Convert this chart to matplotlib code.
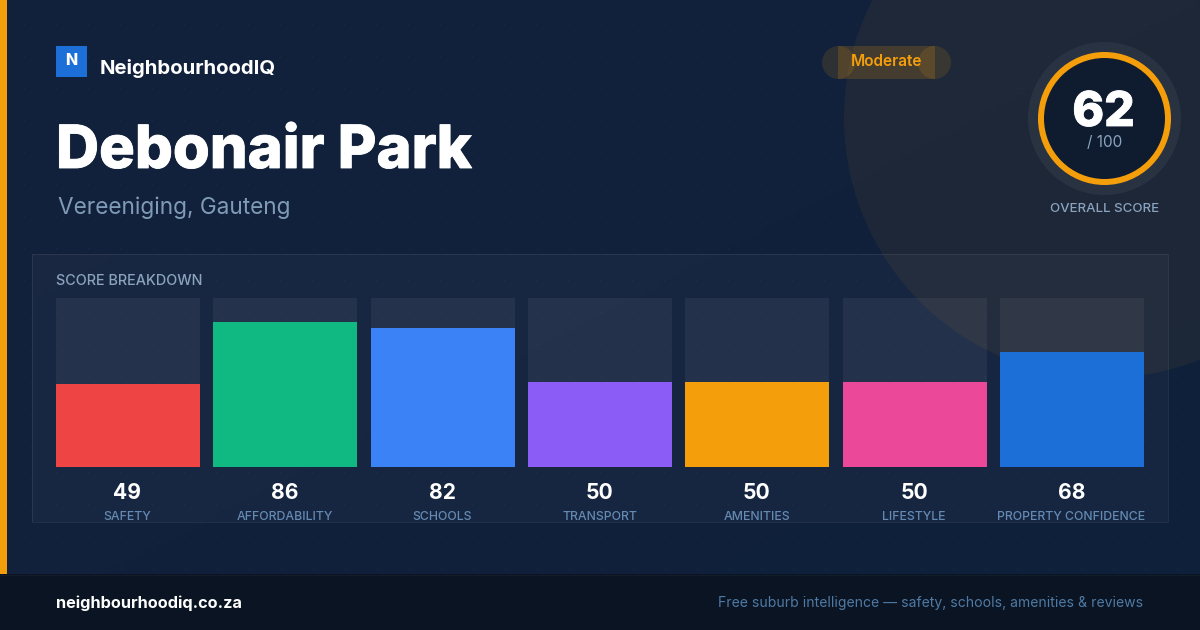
import numpy as np
import matplotlib
matplotlib.use('Agg')
from matplotlib import pyplot as plt
from matplotlib.patches import Rectangle, Circle
from matplotlib import patheffects as pe

categories = ['SAFETY', 'AFFORDABILITY', 'SCHOOLS', 'TRANSPORT', 'AMENITIES', 'LIFESTYLE', 'PROPERTY CONFIDENCE']
scores = [49, 86, 82, 50, 50, 50, 68]
bar_colors = ['#ef4444', '#10b981', '#3b82f6', '#8b5cf6', '#f59e0b', '#ec4899', '#1d6fd8']
overall = 62
suburb = 'Debonair Park'
place = 'Vereeniging, Gauteng'
rating = 'Moderate'

plt.rcParams['font.family'] = ['Inter', 'DejaVu Sans']

W, H = 1200, 630
PT = 0.72  # css px to points at dpi 100
ORANGE = '#f59e0b'

fig = plt.figure(figsize=(12, 6.3), dpi=100)

# whole picture in pixel coordinates
bg = fig.add_axes([0, 0, 1, 1])
bg.set_xlim(0, W)
bg.set_ylim(H, 0)
bg.axis('off')

# background gradient
gx, gy = np.meshgrid(np.linspace(0, 1, 240), np.linspace(0, 1, 126))
t = (gx + gy) / 2
c0 = np.array([0x13, 0x22, 0x3c]) / 255
c1 = np.array([0x0f, 0x20, 0x3a]) / 255
bg.imshow(c0 + (c1 - c0) * t[..., None], extent=[0, W, H, 0], aspect='auto', zorder=0)

# faint dot grid
dx, dy = np.meshgrid(np.arange(24, W, 32), np.arange(24, 574, 32))
bg.scatter(dx.ravel(), dy.ravel(), s=1.2, color='white', alpha=0.035, linewidths=0, zorder=1)

# big corner circle, same centre as the score ring
bg.add_patch(Circle((1104, 118), 260, fc='#f59e0b', alpha=0.06, lw=0, zorder=1))
bg.add_patch(Rectangle((0, 0), 7, H, fc=ORANGE, lw=0, zorder=2))

# the heavy titles need a bit more weight than the font gives
heavy = [pe.withStroke(linewidth=0.6, foreground='white')]

# logo
bg.add_patch(Rectangle((56, 46), 31, 31, fc='#1d6fd8', lw=0, zorder=3))
bg.text(71, 60.5, 'N', color='white', fontsize=16 * PT, fontweight=800, ha='center', va='center', zorder=4)
bg.text(100, 68, 'NeighbourhoodIQ', color='white', fontsize=20.3 * PT, fontweight='bold', ha='left', va='center', zorder=4)

# title
bg.text(56, 168, suburb, color='white', fontsize=59.6 * PT, fontweight=800, ha='left', va='baseline', zorder=4, path_effects=heavy)
bg.text(58, 214, place, color='#7f9bb8', fontsize=22.6 * PT, ha='left', va='baseline', zorder=4)

# rating pill, the rect and end caps overlap on purpose
pill = '#f59e0b'
bg.add_patch(Rectangle((838, 46), 97, 33, fc=pill, alpha=0.18, lw=0, zorder=3))
bg.add_patch(Circle((838.5, 62.5), 16.5, fc=pill, alpha=0.13, lw=0, zorder=3))
bg.add_patch(Circle((934.5, 62.5), 16.5, fc=pill, alpha=0.13, lw=0, zorder=3))
bg.text(886.5, 61.5, rating, color=ORANGE, fontsize=15.4 * PT, fontweight='semibold', ha='center', va='center', zorder=4)

# score ring
bg.add_patch(Circle((1104.5, 118.5), 76.5, fc='white', alpha=0.05, lw=0, zorder=3))
bg.add_patch(Circle((1104.5, 118.5), 63.5, fc='#0f1b2e', ec=ORANGE, lw=6 * PT, zorder=4))
bg.text(1103.5, 126, str(overall), color='white', fontsize=48 * PT, fontweight=800, ha='center', va='baseline', zorder=5, path_effects=heavy)
bg.text(1104.5, 147, '/ 100', color='#8aa3bf', fontsize=15.3 * PT, ha='center', va='baseline', zorder=5)
bg.text(1104.5, 212.5, 'OVERALL SCORE', color='#8aa3bf', fontsize=13.3 * PT, fontweight='medium', ha='center', va='baseline', zorder=5)

# breakdown panel
bg.add_patch(Rectangle((32, 254), 1136, 268, fc='white', ec='none', alpha=0.03, zorder=2))
bg.add_patch(Rectangle((32, 254), 1136, 268, fc='none', ec='white', lw=0.72, alpha=0.07, zorder=2))
bg.text(56, 285, 'SCORE BREAKDOWN', color='#8aa3bf', fontsize=14.4 * PT, fontweight='medium', ha='left', va='baseline', zorder=4)

# footer
bg.add_patch(Rectangle((0, 574), W, 56, fc='#0a1422', lw=0, zorder=3))
bg.plot([0, W], [574.5, 574.5], color='white', alpha=0.04, lw=0.75, zorder=4)
bg.text(56, 608, 'neighbourhoodiq.co.za', color='white', fontsize=16.3 * PT, fontweight='bold', ha='left', va='baseline', zorder=4)
bg.text(1143, 607, 'Free suburb intelligence \u2014 safety, schools, amenities & reviews', color='#4f7aa5',
        fontsize=14.0 * PT, ha='right', va='baseline', zorder=4)

# the bars, on their own 0-100 axes
ax = fig.add_axes([56 / W, 1 - 467 / H, (1144 - 56) / W, (467 - 298) / H])
ax.patch.set_alpha(0)
n = len(scores)
step = (1144 - 56 - 144) / (n - 1)
pos = np.arange(n)
ax.set_xlim(-72 / step, n - 1 + 72 / step)
ax.set_ylim(0, 99.95)
ax.axis('off')
ax.bar(pos, [100] * n, width=144 / step, color='white', alpha=0.055, lw=0)
ax.bar(pos, scores, width=144 / step, color=bar_colors, lw=0)

centers = 56 + 72 + pos * step
for c, s, name in zip(centers, scores, categories):
    bg.text(c - 0.5, 499, str(s), color='white', fontsize=21 * PT, fontweight='bold', ha='center', va='baseline', zorder=4)
    bg.text(c - 0.5, 520, name, color='#648ab3', fontsize=12.3 * PT, fontweight='medium', ha='center', va='baseline', zorder=4)

fig.savefig('out.png', dpi=100)
